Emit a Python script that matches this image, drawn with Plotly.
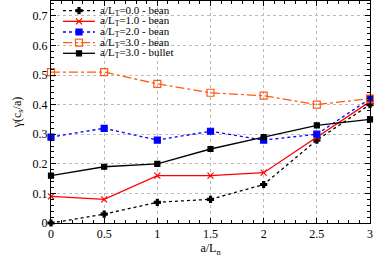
import plotly.graph_objects as go

x_vals = [0, 0.5, 1, 1.5, 2, 2.5, 3]
lt0_bean = [0.0, 0.03, 0.07, 0.08, 0.13, 0.28, 0.40]
lt1_bean = [0.09, 0.08, 0.16, 0.16, 0.17, 0.29, 0.41]
lt2_bean = [0.29, 0.32, 0.28, 0.31, 0.28, 0.30, 0.42]
lt3_bean = [0.51, 0.51, 0.47, 0.44, 0.43, 0.40, 0.42]
lt3_bullet = [0.16, 0.19, 0.20, 0.25, 0.29, 0.33, 0.35]

names = ["a/L<sub>T</sub>=0.0 - bean", "a/L<sub>T</sub>=1.0 - bean",
         "a/L<sub>T</sub>=2.0 - bean", "a/L<sub>T</sub>=3.0 - bean",
         "a/L<sub>T</sub>=3.0 - bullet"]
series = [lt0_bean, lt1_bean, lt2_bean, lt3_bean, lt3_bullet]
colors = ["#000000", "#ff0000", "#0000ff", "#ff5a14", "#000000"]
dashes = ["3px,3px", "solid", "dot", "dashdot", "solid"]
symbols = ["cross", "x-thin-open", "square", "square-open", "square"]
msizes = [5, 6, 6, 7, 5]

W, H = 374, 257
ML, MR, MT, MB = 51, 4, 1, 34

fig = go.Figure()
for name, ys, c, d, s, ms in zip(names, series, colors, dashes, symbols, msizes):
    fig.add_trace(go.Scatter(
        x=x_vals, y=ys, name=name, mode="lines+markers", cliponaxis=False,
        showlegend=False,
        line=dict(color=c, width=1.3, dash=d),
        marker=dict(symbol=s, size=ms, color=c, line=dict(color=c, width=1.2)),
    ))

# custom compact legend, drawn on an overlay axis in pixel coordinates
leg_x0, leg_x1, leg_text_x = 63, 95, 98
leg_row0, leg_dy = 10.7, 10.65
for i, (name, c, d, s, ms) in enumerate(zip(names, colors, dashes, symbols, msizes)):
    yy = leg_row0 + i * leg_dy
    fig.add_trace(go.Scatter(
        x=[leg_x0, leg_x1], y=[yy, yy], mode="lines", xaxis="x2", yaxis="y2",
        showlegend=False, hoverinfo="skip", cliponaxis=False,
        line=dict(color=c, width=1.3, dash=d)))
    fig.add_trace(go.Scatter(
        x=[(leg_x0 + leg_x1) / 2], y=[yy], mode="markers", xaxis="x2", yaxis="y2",
        showlegend=False, hoverinfo="skip", cliponaxis=False,
        marker=dict(symbol=s, size=ms, color=c, line=dict(color=c, width=1.2))))
    fig.add_annotation(x=leg_text_x, y=yy, xref="x2", yref="y2", text=name,
                       showarrow=False, xanchor="left", yanchor="middle",
                       font=dict(family="Liberation Serif", size=11, color="#000000"))

font = dict(family="Liberation Serif", size=12, color="#000000")
axis_common = dict(
    showline=True, linecolor="#000000", linewidth=1, mirror="allticks",
    ticks="inside", ticklen=5, tickcolor="#000000",
    showgrid=True, gridcolor="#bbbbbb", griddash="dot", gridwidth=1,
    zeroline=False, tickfont=font, automargin=False,
)
fig.update_layout(
    xaxis=dict(range=[0, 3], dtick=0.5,
               minor=dict(dtick=0.1, ticks="inside", ticklen=3, tickcolor="#000000", showgrid=False),
               title=dict(text="a/L<sub>n</sub>", font=font, standoff=4), **axis_common),
    yaxis=dict(range=[0, 0.75], dtick=0.1,
               minor=dict(dtick=0.02, ticks="inside", ticklen=3, tickcolor="#000000", showgrid=False),
               title=dict(text="γ(c<sub>s</sub>/a)", font=font, standoff=8), **axis_common),
    xaxis2=dict(overlaying="x", range=[ML, W - MR], visible=False, fixedrange=True),
    yaxis2=dict(overlaying="y", range=[H - MB, MT], visible=False, fixedrange=True),
    width=W, height=H,
    margin=dict(l=ML, r=MR, t=MT, b=MB),
    paper_bgcolor="white", plot_bgcolor="white",
    font=font,
    showlegend=False,
)
fig.write_html("out.html", config={"displayModeBar": False},
               post_script="document.body.style.margin='0';document.body.style.overflow='hidden';")
